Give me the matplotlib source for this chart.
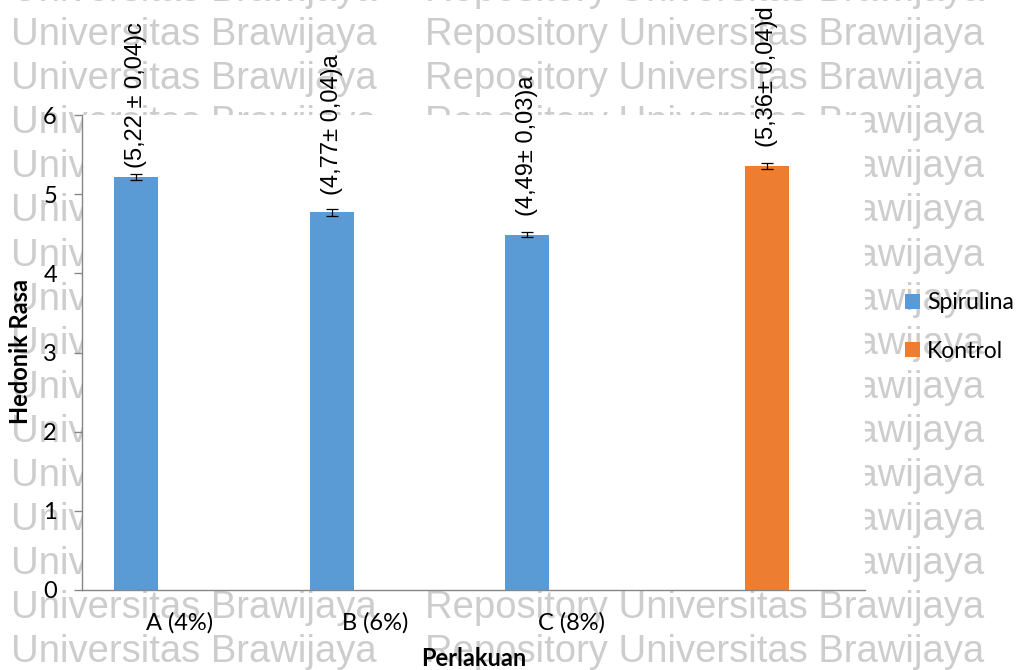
import matplotlib.pyplot as plt
from matplotlib.patches import Patch

# Data
categories = ['A (4%)', 'B (6%)', 'C (8%)', '']
spirulina = [5.22, 4.77, 4.49]
spirulina_err = [0.04, 0.04, 0.03]
spirulina_labels = ['(5,22 ± 0,04)c', '(4,77± 0,04)a', '(4,49± 0,03)a']
kontrol = [5.36]
kontrol_err = [0.04]
kontrol_labels = ['(5,36± 0,04)d']

blue = '#5B9BD5'
orange = '#ED7D31'
axis_grey = '#868686'

W, H = 1024, 670
fig = plt.figure(figsize=(W / 100, H / 100), dpi=100)

# repository watermark behind the chart
for k in range(-1, 15):
    yb = 1 - (45 + 44.1 * k) / H
    for xp, s in [(11, 'Universitas Brawijaya'), (425, 'Repository Universitas Brawijaya')]:
        fig.text(xp / W, yb, s, fontsize=27.5, family='Liberation Sans',
                 color='#cdcdcd', va='baseline', ha='left', zorder=-10)

ax = fig.add_axes([82 / W, 1 - 590 / H, (865 - 82) / W, (590 - 115) / H])
ax.set_facecolor('white')

width = 0.225
err_style = dict(ecolor='black', elinewidth=0.9, capthick=0.9)
x_sp = [i - width for i in range(len(spirulina))]
x_ko = [3]
ax.bar(x_sp, spirulina, width, yerr=spirulina_err, color=blue, capsize=4,
       error_kw=err_style, zorder=2)
ax.bar(x_ko, kontrol, width, yerr=kontrol_err, color=orange, capsize=4,
       error_kw=err_style, zorder=2)

# value labels above each bar, rotated
gaps = [6.5, 12.5, 13.5, 13.5]
xs = x_sp + x_ko
vals = spirulina + kontrol
txts = spirulina_labels + kontrol_labels
for xv, v, t, g in zip(xs, vals, txts, gaps):
    ax.annotate(t, (xv, v), xytext=(0, g), textcoords='offset points',
                rotation=90, ha='center', va='bottom', fontsize=17,
                family='Liberation Sans', annotation_clip=False)

ax.set_xlim(-0.5, 3.5)
ax.set_ylim(0, 6)
ax.set_yticks(range(7))
ax.set_xticks(range(len(categories)))
ax.set_xticklabels(categories)

for sp in ['top', 'right']:
    ax.spines[sp].set_visible(False)
for sp in ['left', 'bottom']:
    ax.spines[sp].set_color(axis_grey)
    ax.spines[sp].set_linewidth(1)

ax.tick_params(axis='y', length=6, width=1, color=axis_grey, pad=12)
ax.tick_params(axis='x', length=0, pad=16)
for lbl in ax.get_xticklabels() + ax.get_yticklabels():
    lbl.set_family('Lato')
    lbl.set_fontsize(17)

fig.text(21 / W, 1 - 351 / H, 'Hedonik Rasa', rotation=90, ha='center', va='center',
         fontsize=17, family='Lato', fontweight='bold')
fig.text(474 / W, 1 - 659 / H, 'Perlakuan', ha='center', va='center',
         fontsize=17, family='Lato', fontweight='bold')

handles = [Patch(facecolor=blue, linewidth=0, label='Spirulina'),
           Patch(facecolor=orange, linewidth=0, label='Kontrol')]
fig.legend(handles=handles, loc='center left', bbox_to_anchor=(905 / W, 1 - 327 / H),
           frameon=False, borderpad=0, borderaxespad=0, handlelength=0.65,
           handleheight=0.65, handletextpad=0.3, labelspacing=1.2,
           prop={'family': 'Lato', 'size': 16.5})

fig.savefig('out.png', dpi=100)
